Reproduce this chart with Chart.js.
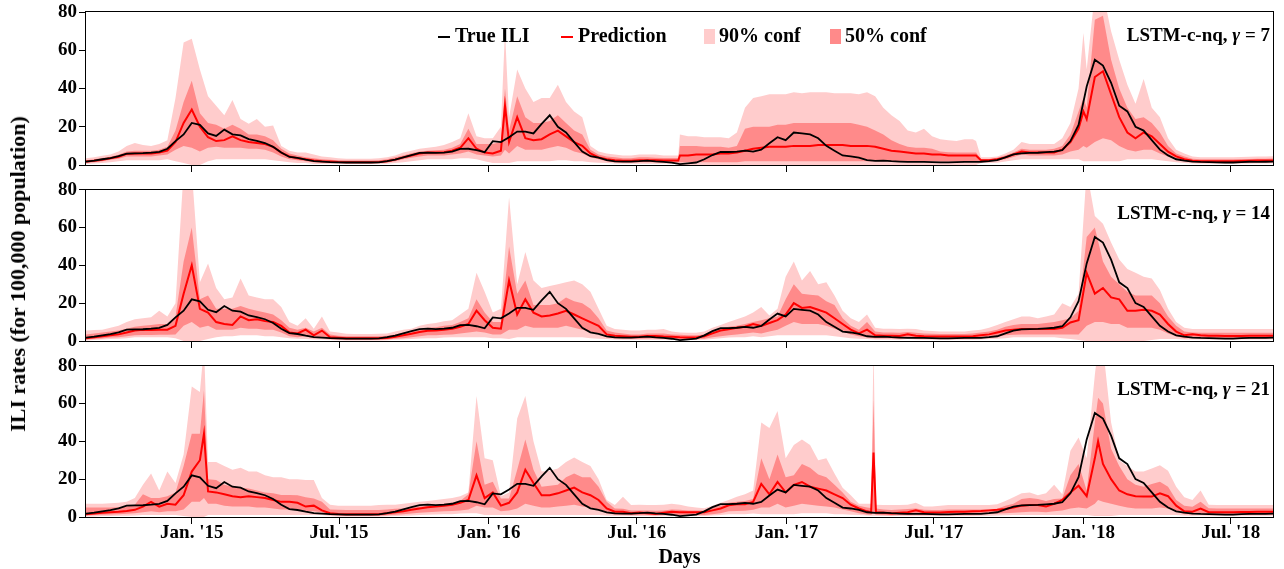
<!DOCTYPE html>
<html>
<head>
<meta charset="utf-8">
<title>ILI forecasts with confidence bands</title>
<script src="https://cdn.jsdelivr.net/npm/chart.js@4"></script>
<style>
  body { margin: 0; background: #fff; }
  #wrap { position: relative; width: 1284px; height: 569px; overflow: hidden; }
  #wrap canvas { position: absolute; left: 0; }
  #ytitle {
    position: absolute; left: 18px; top: 274px;
    transform: translate(-50%, -50%) rotate(-90deg);
    font: bold 22px 'Liberation Serif', serif; white-space: nowrap; color: #000;
  }
</style>
</head>
<body>
<div id="wrap">
  <canvas id="c7" width="1284" height="180" style="top:0"></canvas>
  <canvas id="c14" width="1284" height="176" style="top:180px"></canvas>
  <canvas id="c21" width="1284" height="213" style="top:356px"></canvas>
  <div id="ytitle">ILI rates (for 100,000 population)</div>
</div>
<script>
// x values are days counted from 1 Jan 2015
const tickDays = [0, 181, 365, 547, 731, 912, 1096, 1277];
const tickLabels = ["Jan. '15", "Jul. '15", "Jan. '16", "Jul. '16", "Jan. '17", "Jul. '17", "Jan. '18", "Jul. '18"];

const days = [
  -130, -120, -110, -100, -90, -80, -70, -60, -50, -40,
  -30, -20, -10, 0, 10, 20, 30, 40, 50, 60,
  70, 80, 90, 100, 110, 120, 130, 140, 150, 160,
  170, 180, 190, 200, 210, 220, 230, 240, 250, 260,
  270, 280, 290, 300, 310, 320, 330, 340, 350, 360,
  370, 380, 390, 400, 410, 420, 430, 440, 450, 460,
  470, 480, 490, 500, 510, 520, 530, 540, 550, 560,
  570, 580, 590, 600, 610, 620, 630, 640, 650, 660,
  670, 680, 690, 700, 710, 720, 730, 740, 750, 760,
  770, 780, 790, 800, 810, 820, 830, 840, 850, 860,
  870, 880, 890, 900, 910, 920, 930, 940, 950, 960,
  970, 980, 990, 1000, 1010, 1020, 1030, 1040, 1050, 1060,
  1070, 1080, 1090, 1100, 1110, 1120, 1130, 1140, 1150, 1160,
  1170, 1180, 1190, 1200, 1210, 1220, 1230, 1240, 1250, 1260,
  1270, 1280, 1290, 1300, 1310, 1320, 1330
];

const iliTrue = [
  1.8, 2.3, 3.0, 3.6, 4.6, 6.0, 6.1, 6.2, 6.5, 6.9,
  8.5, 12.5, 16, 22, 21, 16.5, 15.2, 18.5, 16, 15.5,
  13.5, 12.6, 11.5, 9.5, 6.5, 4.2, 3.7, 2.8, 2.0, 1.8,
  1.5, 1.4, 1.3, 1.3, 1.3, 1.3, 1.4, 2.0, 2.8, 4.0,
  5.2, 6.3, 6.5, 6.3, 6.5, 7.0, 8.4, 8.5, 7.8, 6.7,
  12.5, 12, 14.5, 17.5, 17.5, 16.5, 21.5, 26, 20, 17,
  12, 7, 4.6, 3.8, 2.5, 1.9, 1.8, 1.8, 2.0, 2.3,
  1.9, 1.6, 1.2, 0.5, 0.9, 1.3, 3.0, 5.2, 6.8, 6.8,
  7.0, 7.5, 7.0, 8.0, 11.4, 14.5, 13, 17, 16.5, 16,
  14, 10, 7.5, 5.0, 4.5, 3.8, 2.5, 2.2, 2.3, 2.0,
  1.8, 1.6, 1.6, 1.6, 1.5, 1.4, 1.4, 1.5, 1.6, 1.6,
  1.7, 2.0, 2.5, 4.0, 5.5, 6.1, 6.3, 6.4, 6.7, 7.0,
  7.8, 12.5, 21, 41, 55, 52, 43, 31, 28, 20,
  18, 13, 8, 5, 3, 2.3, 1.8, 1.6, 1.5, 1.4,
  1.3, 1.3, 1.5, 1.7, 1.6, 1.7, 1.8
];

// ---- gamma = 7 ----
const days7 = [
  -130, -120, -110, -100, -90, -80, -70, -60, -50, -40,
  -30, -20, -10, 0, 10, 20, 30, 40, 50, 60,
  70, 80, 90, 100, 110, 120, 130, 140, 150, 160,
  170, 180, 190, 200, 210, 220, 230, 240, 250, 260,
  270, 280, 290, 300, 310, 320, 330, 340, 350, 360,
  370, 380, 385, 390, 400, 410, 420, 430, 440, 450, 460,
  470, 480, 490, 500, 510, 520, 530, 540, 550, 560,
  570, 580, 590, 598, 600, 610, 620, 630, 640, 650, 660,
  670, 680, 690, 700, 710, 720, 730, 740, 750, 760,
  770, 780, 790, 800, 810, 820, 830, 840, 850, 860,
  870, 880, 890, 900, 910, 920, 930, 940, 950, 960, 964,
  970, 980, 990, 1000, 1010, 1020, 1030, 1040, 1050, 1060,
  1070, 1080, 1090, 1096, 1100, 1110, 1120, 1130, 1140, 1150, 1160,
  1170, 1180, 1190, 1200, 1210, 1220, 1230, 1240, 1250, 1260,
  1270, 1280, 1290, 1300, 1310, 1320, 1330
];
const pred7 = [
  1.8, 2.2, 2.8, 3.5, 4.3, 5.8, 6, 6, 6, 6.5,
  7.5, 12, 22, 29, 20, 14.5, 12.5, 13, 15, 13,
  12, 11.5, 11, 9.5, 6.5, 4.5, 3.5, 3, 2.3, 2,
  1.8, 1.6, 1.5, 1.5, 1.5, 1.5, 1.6, 2, 2.8, 4,
  5, 6, 6.5, 6.5, 6.7, 7.5, 9, 14, 8.5, 6.5,
  6, 7.5, 31, 12, 25, 14, 13, 13.5, 16, 18, 15,
  12, 10, 6, 4, 3, 2.5, 2.2, 2.2, 2.5, 2.5,
  2.5, 2.3, 2.3, 2.3, 5, 5, 5.5, 5.5, 5.5, 6, 6,
  6.5, 7.5, 8.5, 9, 9.5, 9.5, 9.5, 10, 10, 10,
  10.5, 10.5, 10.5, 10.5, 10, 10, 10, 9.5, 8.5, 7.5,
  7, 6.5, 6, 6, 5.5, 5.5, 5, 5, 5, 5, 5,
  2.5, 2.5, 3, 4, 5.5, 7, 6.5, 6.5, 6.5, 6.5,
  8, 12, 19, 28, 24, 46, 49, 37, 25, 17, 14,
  17, 15, 11, 7, 4.5, 3, 2.2, 2, 2, 2,
  2, 2, 2.1, 2.2, 2.3, 2.3, 2.4
];
const hi90_7 = [
  3.5, 4, 4.8, 5.5, 7, 10, 11.5, 10.5, 10, 11,
  13, 35, 64, 66, 50, 36, 31, 26, 34, 24,
  21.6, 24, 20, 20.7, 10, 7.5, 6.5, 6.5, 5.5, 4.5,
  4, 3.5, 3.3, 3.3, 3.3, 3.3, 3.5, 4, 5, 6.5,
  7.5, 8.5, 9, 9.5, 10.5, 12, 14, 27, 15, 14,
  14, 20, 70, 25, 50, 40, 33, 35, 35, 42, 33,
  28, 25, 10, 7, 6, 5.5, 5, 5, 5.5, 5.5,
  5.5, 5, 5, 5, 16, 15, 15, 14.5, 14.5, 14.5, 14,
  17, 30, 35, 36, 37, 37, 37, 38, 37.5, 38,
  38, 38, 37.5, 37.5, 37.5, 37, 38, 36, 30, 26,
  23, 18, 17, 19, 15, 13.5, 13, 12.5, 13.5, 13.5, 12.5,
  4, 4, 4.5, 6, 8, 12, 11, 11, 11, 11,
  14, 22, 40, 69, 50, 90, 90, 70, 55, 42, 32,
  45, 30, 25, 14, 8, 6, 4.5, 4, 4, 4,
  4, 4, 4.2, 4.3, 4.5, 4.5, 4.6
];
const lo90_7 = [
  0.5, 0.8, 1, 1.5, 2, 2.5, 2.5, 2.5, 2.5, 2.5,
  3, 2, 1, 0, 0, 2, 3, 3, 3, 3,
  3, 3, 3, 2.5, 2, 1.5, 1, 1, 0.5, 0.5,
  0.5, 0.5, 0.5, 0.5, 0.5, 0.5, 0.5, 0.7, 1, 1.5,
  2, 2.5, 3, 3, 3, 3, 3.5, 3.5, 3, 2,
  1, 1, 1, 1, 2, 2, 2, 2, 2, 2.5, 2.5,
  2, 2, 1.5, 1.2, 1, 0.8, 0.7, 0.7, 0.7, 0.7,
  0.7, 0.7, 0.7, 0.7, 0, 0, 0, 0, 0, 0, 0,
  0, 0, 0, 0, 0, 0, 0, 0, 0, 0,
  0, 0, 0, 0, 0, 0, 0, 0, 0, 0,
  0, 0, 0, 0, 0, 0, 0, 0, 0, 0, 0,
  1, 1, 1.2, 1.8, 2.5, 3, 3, 3, 3, 3,
  3, 3, 3, 2, 2, 2, 2, 2, 2, 3, 3,
  3, 3, 2.5, 2, 1.5, 1, 0.8, 0.7, 0.7, 0.7,
  0.7, 0.7, 0.7, 0.7, 0.8, 0.8, 0.8
];
const hi50_7 = [
  2.5, 3, 3.6, 4.3, 5.3, 7, 7.5, 7.5, 7.5, 8,
  9.5, 18, 33, 44, 27, 22, 21, 19, 21, 19,
  16, 16, 15, 13, 8.5, 6, 5, 4, 3.5, 3,
  2.7, 2.5, 2.3, 2.3, 2.3, 2.3, 2.5, 3, 4, 5,
  6.2, 7, 7.5, 7.7, 8, 9, 11, 19, 11, 11,
  11, 12, 40, 18, 36, 25, 22, 22, 23, 26, 22,
  18, 16, 8, 5.5, 4.5, 4, 3.5, 3.5, 4, 4,
  3.8, 3.6, 3.6, 3.6, 10, 10, 10, 9.5, 9.5, 9.5, 9,
  10, 19, 20, 20, 20, 21, 21, 22, 22, 22,
  22, 22, 22, 22, 22, 21, 20, 18, 16, 13,
  11, 9.5, 9, 9, 8.5, 7, 6.7, 6.5, 6.5, 6.5, 6.5,
  3.2, 3.2, 3.8, 5, 6.5, 8.5, 8, 8, 8, 8.5,
  10, 16, 28, 35, 30, 76, 78, 55, 40, 30, 24,
  25, 22, 17, 10, 6, 4.5, 3.3, 3, 3, 3,
  3, 3, 3.1, 3.2, 3.3, 3.3, 3.4
];
const lo50_7 = [
  1.2, 1.5, 2, 2.7, 3.3, 4.5, 4.5, 4.5, 4.5, 5,
  5.5, 8, 10, 9, 7, 9, 9.5, 9, 9, 9,
  8.5, 8.5, 8, 6.5, 4.5, 3, 2.5, 2, 1.5, 1.2,
  1, 1, 1, 1, 1, 1, 1, 1.3, 2, 3,
  3.8, 4.5, 5, 5, 5, 5.5, 6, 7, 5.5, 5,
  4.5, 5, 8, 6, 10, 8, 8, 8, 9, 10, 9,
  7, 6, 4, 3, 2, 1.5, 1.3, 1.3, 1.4, 1.4,
  1.4, 1.3, 1.3, 1.3, 1.5, 1.5, 1.5, 1.5, 1.5, 1.5, 1.5,
  1.5, 2, 2, 2, 2, 2, 2, 2, 2, 2,
  2, 2, 2, 2, 2, 2, 2, 2, 2, 2,
  2, 2, 2, 2, 2, 1.8, 1.8, 1.8, 1.8, 1.8, 1.8,
  1.8, 1.8, 2.2, 3, 4.2, 5.5, 5, 5, 5, 5,
  5.5, 7, 8, 10, 9, 12, 14, 13, 10, 8, 7,
  8, 8, 6, 4.5, 3, 2, 1.5, 1.3, 1.3, 1.3,
  1.3, 1.3, 1.4, 1.4, 1.5, 1.5, 1.6
];

// ---- gamma = 14 (same day grid as the true series) ----
const pred14 = [
  1.5, 2, 2.5, 3, 3.5, 4.5, 5.5, 6, 5.8, 6,
  6, 8, 25, 40, 17, 15, 10, 9, 8.5, 13,
  11, 11.5, 10.5, 10, 8, 4.5, 4, 6, 3, 5.5,
  2, 1.7, 1.4, 1.4, 1.4, 1.4, 1.4, 1.6, 2.3, 3,
  3.8, 4.8, 5.4, 5.6, 6, 6.5, 7.5, 9, 16, 11,
  7, 6.5, 32, 14, 22, 15, 13, 13.5, 14.5, 16,
  14, 12, 10, 8, 3.5, 2.8, 2.5, 2.2, 2.2, 2.6,
  2.7, 2.4, 2.2, 2, 1.9, 1.9, 2.5, 4, 5.5, 6.2,
  7, 7.5, 9, 8, 9.5, 11, 14, 20, 17.5, 18,
  16.5, 15, 12, 9, 6, 4, 6, 3, 2.8, 2.8,
  2.7, 3.5, 2.8, 2.5, 2.4, 2.4, 2.4, 2.4, 2.4, 2.5,
  3, 3.5, 4.5, 5.5, 6, 6.3, 6.3, 6.3, 6.3, 6.3,
  7, 9.8, 11, 36, 25, 28, 23, 22, 16, 16,
  16.5, 16, 14, 9, 5, 3, 3.5, 3, 2.8, 2.8,
  2.7, 2.7, 2.7, 2.8, 2.8, 2.8, 2.8
];
const hi90_14 = [
  5.5, 5.8, 6, 7, 8, 10, 11.5, 12, 12.5, 16,
  13, 20, 90, 90, 31, 41, 28, 22, 23, 33,
  24, 23, 22, 22, 18, 10, 8, 12, 6.5, 13,
  5, 4.5, 3.8, 3.7, 3.7, 3.7, 3.8, 4, 5, 6,
  6.5, 8, 9, 9.5, 10.5, 11, 14, 17, 36, 26,
  15, 17, 76, 30, 47, 32, 28, 29, 30, 31,
  32, 30, 26, 17, 8, 6.3, 6, 5.5, 5.5, 6,
  6, 6.3, 5, 4.5, 4.3, 4.3, 5, 7, 8.5, 10,
  11.5, 13, 15, 18, 13.5, 17, 34, 42, 32, 37,
  30, 31, 24, 16, 12, 10, 14, 7, 6.5, 6.5,
  6.3, 6.5, 6.3, 5.5, 5.3, 5, 5, 5, 5, 5.5,
  6, 7, 8.5, 10, 11.5, 13, 13, 12, 13, 14,
  20, 18, 25, 90, 66, 62, 52, 43, 38, 36,
  34, 33, 27, 17, 10, 7, 6.3, 6.3, 6.3, 6.3,
  6.3, 6.3, 6.3, 6.3, 6.3, 6.3, 6.3
];
const lo90_14 = [
  0.3, 0.5, 0.8, 1, 1.2, 1.5, 2, 2, 2, 2,
  2, 1.5, 0, 0, 0, 1, 2, 2.5, 2.5, 3,
  3, 3, 2.5, 2.5, 2, 1.5, 1.2, 1, 0.8, 0.8,
  0.5, 0.4, 0.3, 0.3, 0.3, 0.3, 0.3, 0.4, 0.6, 0.8,
  1, 1.3, 1.5, 1.5, 1.8, 2, 2, 2, 2, 2,
  1.5, 1.5, 1, 2, 2, 2, 2, 2, 2, 2,
  2, 2, 1.5, 1.2, 1, 0.8, 0.7, 0.6, 0.6, 0.7,
  0.7, 0.7, 0.6, 0.5, 0.5, 0.5, 0.7, 1, 1.5, 1.8,
  2, 2, 2.5, 2, 2.5, 3, 3, 3, 3, 3,
  3, 3, 2.5, 2, 1.5, 1.2, 1, 0.8, 0.8, 0.8,
  0.7, 1, 0.8, 0.7, 0.6, 0.6, 0.6, 0.6, 0.6, 0.7,
  0.8, 1, 1.2, 1.5, 2, 2, 2, 2, 2, 2,
  1.5, 1, 0.5, 0, 0, 0, 0, 0, 0, 0,
  0, 0.5, 1, 1, 1, 0.8, 0.8, 0.8, 0.8, 0.8,
  0.8, 0.8, 0.8, 0.8, 0.8, 0.8, 0.8
];
const hi50_14 = [
  3.5, 4, 4.5, 5, 5.5, 6.5, 7.5, 8, 8.5, 9,
  9, 13, 42, 60, 22, 24, 17, 17, 17, 18.5,
  17, 16, 15, 14, 11, 7, 6, 7, 5, 7,
  3.5, 2.8, 2.5, 2.5, 2.5, 2.5, 2.5, 2.8, 3.5, 4.5,
  5, 6, 7, 7.3, 8, 8.5, 10, 12, 22, 15,
  10, 10, 50, 25, 32, 19, 19, 19, 20, 23,
  21, 20, 17, 12, 5.5, 4.5, 4, 3.5, 3.5, 4,
  4, 4, 3.5, 3.3, 3, 3, 3.5, 5.5, 6.5, 7.5,
  8, 9, 10, 11, 12, 13, 22, 30, 25, 24.5,
  24, 21, 19, 12, 8, 6, 10, 5, 4.5, 4.5,
  4.3, 4.8, 4.3, 4, 3.8, 3.7, 3.7, 3.7, 3.7, 4,
  4.5, 5, 6, 7.5, 8.5, 9, 9, 9, 9.5, 10,
  11, 12, 16, 55, 60, 42, 34, 30, 26, 24,
  24, 24, 20, 13, 8, 5, 4.5, 4.3, 4.3, 4.3,
  4.3, 4.3, 4.3, 4.3, 4.3, 4.3, 4.3
];
const lo50_14 = [
  0.8, 1, 1.3, 1.8, 2, 2.5, 3, 3.2, 3.2, 3.3,
  3.3, 3.5, 8, 10, 7, 8, 6, 6, 6, 7,
  6.5, 6.5, 6, 6, 4.5, 2.5, 2, 2.5, 1.5, 2,
  1, 0.8, 0.7, 0.7, 0.7, 0.7, 0.7, 0.8, 1.2, 1.5,
  2, 2.5, 3, 3, 3.3, 3.5, 4, 4.5, 5, 4.5,
  3.5, 3.5, 6, 6, 8, 7, 7, 7, 7, 8,
  7, 6, 5, 4, 2, 1.5, 1.4, 1.2, 1.2, 1.3,
  1.4, 1.3, 1.2, 1.1, 1, 1, 1.2, 2, 2.5, 3,
  3.5, 4, 4.5, 4, 5, 6, 8, 10, 9, 9,
  9, 8, 6.5, 5, 3.5, 2.5, 2, 1.5, 1.4, 1.4,
  1.3, 1.8, 1.4, 1.2, 1.2, 1.2, 1.2, 1.2, 1.2, 1.3,
  1.5, 1.8, 2.2, 3, 3.3, 3.5, 3.5, 3.5, 3.5, 3.5,
  3.5, 3.5, 3.5, 8, 10, 10, 9, 9, 7, 7,
  7, 7, 6, 4, 2.5, 1.5, 1.6, 1.5, 1.4, 1.4,
  1.4, 1.4, 1.4, 1.4, 1.4, 1.4, 1.4
];

// ---- gamma = 21 ----
const days21 = [
  -130, -120, -110, -100, -90, -80, -70, -60, -50, -40,
  -30, -20, -10, 0, 10, 15, 20, 30, 40, 50, 60,
  70, 80, 90, 100, 110, 120, 130, 140, 150, 160,
  170, 180, 190, 200, 210, 220, 230, 240, 250, 260,
  270, 280, 290, 300, 310, 320, 330, 340, 350, 360,
  370, 380, 390, 400, 410, 420, 430, 440, 450, 460,
  470, 480, 490, 500, 510, 520, 530, 540, 550, 560,
  570, 580, 590, 600, 610, 620, 630, 640, 650, 660,
  670, 680, 690, 700, 710, 720, 730, 740, 750, 760,
  770, 780, 790, 800, 810, 820, 830, 835, 838, 841, 850, 860,
  870, 880, 890, 900, 910, 920, 930, 940, 950, 960,
  970, 980, 990, 1000, 1010, 1020, 1030, 1040, 1050, 1060,
  1070, 1080, 1090, 1100, 1110, 1114, 1120, 1130, 1140, 1150, 1160,
  1170, 1180, 1190, 1200, 1210, 1220, 1230, 1240, 1250, 1260,
  1270, 1280, 1290, 1300, 1310, 1320, 1330
];
const pred21 = [
  1.4, 1.8, 2.2, 2.5, 2.8, 3.2, 3.8, 5.5, 8, 5.5,
  7, 6.5, 11.5, 24, 30, 44, 13.5, 13, 12, 11, 10.5,
  11, 10.5, 10, 9, 8, 8, 7.5, 5.5, 6, 3.5,
  2, 1.6, 1.4, 1.4, 1.4, 1.4, 1.4, 2, 2.5, 3,
  3.8, 4.5, 5.2, 5.6, 6, 6.5, 7.5, 9, 22, 10,
  13, 6, 7.5, 13, 25, 18, 11.5, 11.5, 12.5, 14,
  15.5, 13, 11.5, 9, 4.5, 2.8, 2.8, 2, 2.4, 2,
  1.6, 2.2, 2.8, 2.5, 2.5, 2.5, 2.5, 3.5, 4.5, 6.2,
  6.7, 6.8, 8, 17.5, 12, 18.5, 13, 17, 18.5, 16,
  15, 14, 12, 10, 6.5, 4.5, 3, 2.5, 34, 2.5, 2.2, 1.9,
  2.2, 2.5, 3.5, 2.5, 2.4, 2.4, 2.6, 2.8, 2.8, 3,
  3.2, 3.5, 3.8, 4.2, 5, 6, 6.3, 6.3, 5.5, 7,
  9, 13, 16.5, 11, 31, 40, 28, 20, 14, 12, 11,
  10.8, 10.8, 12.5, 11, 6, 3, 2.8, 4.5, 2.5, 2.5,
  2.5, 2.5, 2.6, 2.7, 2.8, 2.8, 2.8
];
const hi90_21 = [
  7, 7, 7, 7.2, 7.5, 8, 10, 17, 23, 14,
  24, 18, 33, 69, 66, 90, 29, 29, 27, 25, 26,
  24, 24, 22, 21, 21, 20, 20, 19.5, 19.5, 10,
  6.5, 6, 6, 6, 6, 6, 6.3, 6.5, 6.5, 7,
  7.5, 8, 8.5, 9, 9.5, 10, 11, 13, 64, 31,
  30, 11, 13, 52, 64, 40, 24, 24.5, 25.6, 29,
  31.5, 29, 27, 20, 9, 6.3, 10.7, 6.3, 6.5, 6.3,
  6.3, 6.5, 7, 6.5, 5.5, 5, 4.6, 6, 7.5, 9,
  10.7, 12, 14, 50, 47, 56, 31, 38, 41, 38,
  30, 31, 23, 15.5, 11.5, 7, 7, 7, 90, 6.5, 6.3, 6.3,
  6.3, 6.5, 7.5, 5.5, 5.5, 6, 6.3, 6.3, 6.3, 6.3,
  6.3, 6.3, 6.8, 8.5, 10.5, 12.5, 13, 11.5, 12.5, 17,
  12, 35, 42, 31, 75, 90, 90, 50, 30, 27, 24,
  24, 25.6, 27.4, 24.5, 16, 10.5, 9, 14, 6.5, 6.3,
  6.3, 6.3, 6.3, 6.3, 6.3, 6.3, 6.3
];
const lo90_21 = [
  0.2, 0.3, 0.5, 0.5, 0.6, 0.7, 0.8, 1, 1, 1,
  1, 1, 0.5, 0, 0, 0, 1, 1, 1, 1, 1,
  1, 1, 1, 1, 1, 1, 1, 1, 1, 1,
  0.5, 0.3, 0.3, 0.3, 0.3, 0.3, 0.3, 0.4, 0.5, 0.7,
  0.8, 1, 1.2, 1.3, 1.5, 1.5, 1.8, 2, 2, 1,
  1, 1, 1, 1, 1, 1, 1, 1, 1, 1,
  1, 1, 1, 1, 0.8, 0.6, 0.6, 0.5, 0.5, 0.5,
  0.4, 0.5, 0.6, 0.5, 0.5, 0.5, 0.5, 0.8, 1, 1.5,
  1.5, 1.5, 1.8, 1.5, 1.5, 1.5, 1.5, 1.5, 2, 2,
  2, 2, 1.5, 1.5, 1.2, 1, 0.8, 0.6, 0.6, 0.6, 0.5, 0.5,
  0.5, 0.5, 0.5, 0.5, 0.5, 0.5, 0.5, 0.5, 0.5, 0.5,
  0.6, 0.7, 0.8, 0.9, 1, 1, 1, 1, 1, 1,
  1, 1, 1, 1, 0.5, 0.5, 0.5, 0.5, 1, 1, 1,
  1, 1, 1, 1, 1, 0.8, 0.7, 0.8, 0.6, 0.6,
  0.6, 0.6, 0.6, 0.6, 0.6, 0.6, 0.6
];
const hi50_21 = [
  5, 5, 5, 5, 5.2, 5.5, 6.5, 12, 10, 10,
  11, 13, 27, 44, 44, 67, 20, 19.5, 17, 16, 15.5,
  15, 14, 13, 12.5, 11.6, 11.6, 11.5, 10.5, 9.8, 8,
  4, 3.8, 3.7, 3.7, 3.7, 3.7, 3.7, 4, 4.3, 4.5,
  5, 5.5, 6, 6.5, 7, 7.5, 8.5, 12, 40, 17,
  18.6, 9.8, 9.8, 25, 41, 25, 16, 16.5, 17, 21,
  23, 21, 21, 16, 8, 4.5, 4.3, 3.5, 3.5, 3.5,
  3.3, 3.5, 4, 3.8, 3.5, 3.5, 3.5, 5, 6, 7.5,
  8, 8.5, 9.5, 31, 20, 33, 21, 22, 28, 26,
  22.5, 21, 17, 13, 8, 6, 5, 4.8, 62, 4.5, 4, 3.7,
  4, 4.2, 4.5, 3.8, 3.7, 3.7, 4, 4, 4, 4,
  4, 4, 4.3, 6, 7, 9.5, 10, 9.5, 8.5, 9.5,
  9.8, 22, 28, 14, 50, 63, 60, 36, 27, 20, 17,
  16, 17.5, 18.6, 16, 9, 6, 5.4, 8, 4.6, 4.5,
  4.5, 4.5, 4.5, 4.5, 4.5, 4.5, 4.5
];
const lo50_21 = [
  0.8, 1, 1.2, 1.3, 1.5, 1.7, 2, 2.5, 3, 2.5,
  3, 3, 4, 8, 8, 10, 7, 7, 6, 5.5, 5.5,
  5.5, 5, 5, 4.5, 4, 4, 4, 3, 3, 2.5,
  1, 0.8, 0.7, 0.7, 0.7, 0.7, 0.7, 0.9, 1.2, 1.5,
  1.8, 2.2, 2.5, 2.8, 3, 3.2, 3.5, 4, 6, 5,
  5, 3, 3.5, 4.5, 7, 6, 5, 5, 5.5, 6,
  6.5, 5.5, 5, 4, 2, 1.3, 1.3, 1, 1.1, 1,
  0.9, 1, 1.2, 1.1, 1.1, 1.1, 1.1, 1.5, 2, 3,
  3.2, 3.3, 3.8, 5, 5, 7, 5, 6, 7, 6.5,
  6, 5.5, 5, 4, 3, 2, 1.3, 1.2, 2, 1.2, 1, 0.9,
  1, 1.1, 1.5, 1.1, 1.1, 1.1, 1.2, 1.2, 1.2, 1.3,
  1.4, 1.6, 1.8, 2, 2.2, 2.5, 2.8, 2.8, 2.5, 3,
  3.5, 4.5, 5, 4.5, 7, 9, 8, 7, 6, 5, 4.5,
  4.5, 4.5, 5, 4.5, 3, 1.5, 1.4, 1.8, 1.2, 1.2,
  1.2, 1.2, 1.2, 1.2, 1.3, 1.3, 1.3
];

const serif = "'Liberation Serif', 'DejaVu Serif', serif";
const band90 = '#ffcccc';
const band50 = '#ff8a8a';
const predRed = '#ff0000';

function checkLengths(name, xs, cols) {
  cols.forEach((c, i) => {
    if (c.length !== xs.length) throw new Error(name + ' column ' + i + ': ' + c.length + ' vs ' + xs.length);
  });
}
checkLengths('true', days, [iliTrue]);
checkLengths('g7', days7, [pred7, hi90_7, lo90_7, hi50_7, lo50_7]);
checkLengths('g14', days, [pred14, hi90_14, lo90_14, hi50_14, lo50_14]);
checkLengths('g21', days21, [pred21, hi90_21, lo90_21, hi50_21, lo50_21]);

const toPoints = (xs, ys) => xs.map((x, i) => ({ x: x, y: ys[i] }));

// box round the plot area
const frame = {
  id: 'frame',
  afterDraw(chart) {
    const { ctx, chartArea: a } = chart;
    ctx.save();
    ctx.strokeStyle = '#000';
    ctx.lineWidth = 1;
    ctx.strokeRect(Math.round(a.left) - 0.5, Math.round(a.top) - 0.5,
      Math.round(a.right - a.left) + 1, Math.round(a.bottom - a.top) + 1);
    ctx.restore();
  }
};

// "LSTM-c-nq, γ = n" tag in the top right corner
const panelTag = {
  id: 'panelTag',
  afterDraw(chart, args, opts) {
    const { ctx, chartArea } = chart;
    const y = chartArea.top + 24;
    let x = chartArea.right - 3;
    const parts = [
      ['LSTM-c-nq, ', 'bold 19px ' + serif],
      ['\u03b3', 'italic bold 19px ' + serif],
      [' = ' + opts.gamma, 'bold 19px ' + serif]
    ];
    ctx.save();
    ctx.fillStyle = '#000';
    ctx.textBaseline = 'middle';
    ctx.textAlign = 'left';
    for (let i = parts.length - 1; i >= 0; i--) {
      ctx.font = parts[i][1];
      x -= ctx.measureText(parts[i][0]).width;
      ctx.fillText(parts[i][0], x, y);
    }
    ctx.restore();
  }
};

// key for the four series, drawn along the top of the first panel
const seriesKey = {
  id: 'seriesKey',
  afterDraw(chart) {
    const { ctx, chartArea } = chart;
    const y = chartArea.top + 25;
    const x0 = chartArea.left;
    ctx.save();
    ctx.font = 'bold 20px ' + serif;
    ctx.textBaseline = 'middle';
    ctx.fillStyle = '#000';
    ctx.lineWidth = 2;
    const lineKey = (x, color, text) => {
      ctx.strokeStyle = color;
      ctx.beginPath();
      ctx.moveTo(x, y);
      ctx.lineTo(x + 12, y);
      ctx.stroke();
      ctx.fillText(text, x + 17, y);
    };
    const boxKey = (x, color, text) => {
      ctx.fillStyle = color;
      ctx.fillRect(x, y - 8, 11, 15);
      ctx.fillStyle = '#000';
      ctx.fillText(text, x + 15, y);
    };
    lineKey(x0 + 352, '#000', 'True ILI');
    lineKey(x0 + 475, predRed, 'Prediction');
    boxKey(x0 + 618, band90, '90% conf');
    boxKey(x0 + 744, band50, '50% conf');
    ctx.restore();
  }
};

function buildDatasets(xs, pred, lo50, hi50, lo90, hi90) {
  const hidden = { borderWidth: 0, borderColor: 'rgba(0,0,0,0)', pointRadius: 0, tension: 0 };
  return [
    Object.assign({ label: '90% conf', data: toPoints(xs, hi90), fill: '+1', backgroundColor: band90, order: 4 }, hidden),
    Object.assign({ label: '90% low', data: toPoints(xs, lo90), fill: false, order: 4 }, hidden),
    Object.assign({ label: '50% conf', data: toPoints(xs, hi50), fill: '+1', backgroundColor: band50, order: 3 }, hidden),
    Object.assign({ label: '50% low', data: toPoints(xs, lo50), fill: false, order: 3 }, hidden),
    { label: 'Prediction', data: toPoints(xs, pred), borderColor: predRed, borderWidth: 2,
      pointRadius: 0, fill: false, tension: 0, order: 2 },
    { label: 'True ILI', data: toPoints(days, iliTrue), borderColor: '#000', borderWidth: 1.8,
      pointRadius: 0, fill: false, tension: 0, order: 1 }
  ];
}

function buildOptions(gamma, padTop, xHeight, bottomPanel) {
  return {
    responsive: false,
    animation: false,
    events: [],
    layout: { padding: { top: padTop, right: 11, left: 0, bottom: 0 } },
    plugins: {
      legend: { display: false },
      tooltip: { enabled: false },
      panelTag: { gamma: gamma }
    },
    scales: {
      x: {
        type: 'linear',
        min: -130,
        max: 1329,
        afterBuildTicks: s => { s.ticks = tickDays.map(v => ({ value: v })); },
        afterFit: s => { s.height = xHeight; },
        border: { display: false },
        grid: { drawOnChartArea: false, drawTicks: true, tickLength: 7, color: '#000' },
        ticks: {
          display: bottomPanel,
          autoSkip: false,
          maxRotation: 0,
          padding: 0,
          color: '#000',
          font: { family: serif, size: 19, weight: 'bold', lineHeight: 1 },
          callback: (v, i) => tickLabels[i]
        },
        title: {
          display: bottomPanel,
          text: 'Days',
          color: '#000',
          padding: { top: 0, bottom: 1 },
          font: { family: serif, size: 20, weight: 'bold', lineHeight: 1 }
        }
      },
      y: {
        min: 0,
        max: 80,
        afterFit: s => { s.width = 86; },
        border: { display: false },
        grid: { drawOnChartArea: false, drawTicks: true, tickLength: 7, color: '#000' },
        ticks: {
          stepSize: 20,
          padding: 2,
          color: '#000',
          font: { family: serif, size: 19, weight: 'bold', lineHeight: 0.8 }
        }
      }
    }
  };
}

new Chart(document.getElementById('c7'), {
  type: 'line',
  data: { datasets: buildDatasets(days7, pred7, lo50_7, hi50_7, lo90_7, hi90_7) },
  options: buildOptions(7, 12, 15, false),
  plugins: [frame, panelTag, seriesKey]
});

new Chart(document.getElementById('c14'), {
  type: 'line',
  data: { datasets: buildDatasets(days, pred14, lo50_14, hi50_14, lo90_14, hi90_14) },
  options: buildOptions(14, 8, 15, false),
  plugins: [frame, panelTag]
});

new Chart(document.getElementById('c21'), {
  type: 'line',
  data: { datasets: buildDatasets(days21, pred21, lo50_21, hi50_21, lo90_21, hi90_21) },
  options: buildOptions(21, 8, 52, true),
  plugins: [frame, panelTag]
});
</script>
</body>
</html>
